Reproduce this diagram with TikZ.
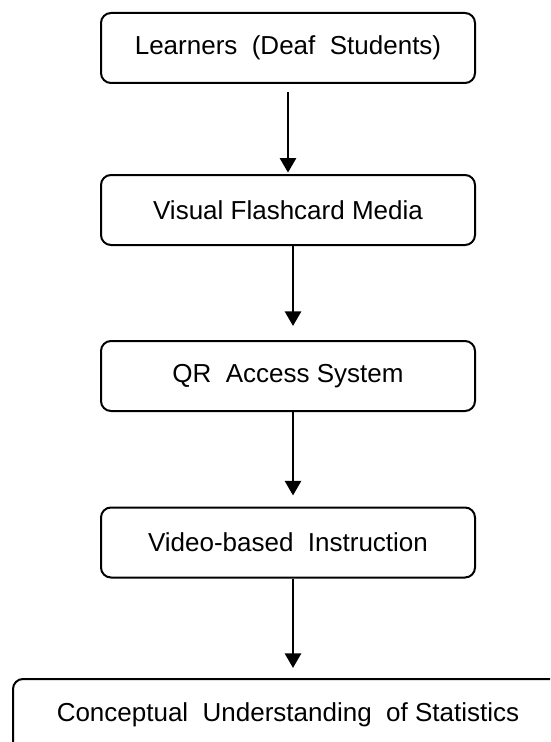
\documentclass[tikz,border=0pt]{standalone}
\usepackage{fontspec}
\setmainfont{Liberation Sans}
\usetikzlibrary{arrows.meta}

\begin{document}
\begin{tikzpicture}[x=0.75pt,y=-0.75pt,
    flowbox/.style={shape=rectangle,draw=black,line width=1.5pt,rounded corners=7.5pt,
        fill=white,minimum width=280.5pt,minimum height=52.5pt,inner sep=0pt,
        font=\fontsize{19.5}{23}\selectfont},
    flowarrow/.style={-{Triangle[width=12pt,length=11pt]},line width=2.2pt}]
                \useasboundingbox (0,0) rectangle (550,742);
                \clip (0,0) rectangle (550,742);

                \node[flowbox] (A) at (288,48) {Learners\ \ (Deaf\ \ Students)};
                \node[flowbox] (B) at (288,210) {Visual Flashcard Media};
                \node[flowbox] (C) at (288,376) {QR\ \ Access System};
                \node[flowbox] (D) at (288,542.5) {Video-based\ \ Instruction};
                \node[flowbox,minimum width=412.5pt,minimum height=54pt] (E) at (288,715)
                    {Conceptual\ \ Understanding\ \ of Statistics};

                \path [flowarrow,shorten <=6pt,shorten >=1pt] (A) edge (B);
                \path [flowarrow,shorten >=10.5pt] ([xshift=3.75pt]B.south) edge ([xshift=3.75pt]C.north);
                \path [flowarrow,shorten >=8.25pt] ([xshift=3.75pt]C.south) edge ([xshift=3.75pt]D.north);
                \path [flowarrow,shorten >=7.5pt] ([xshift=3.75pt]D.south) edge ([xshift=3.75pt]E.north);
            \end{tikzpicture}
\end{document}
